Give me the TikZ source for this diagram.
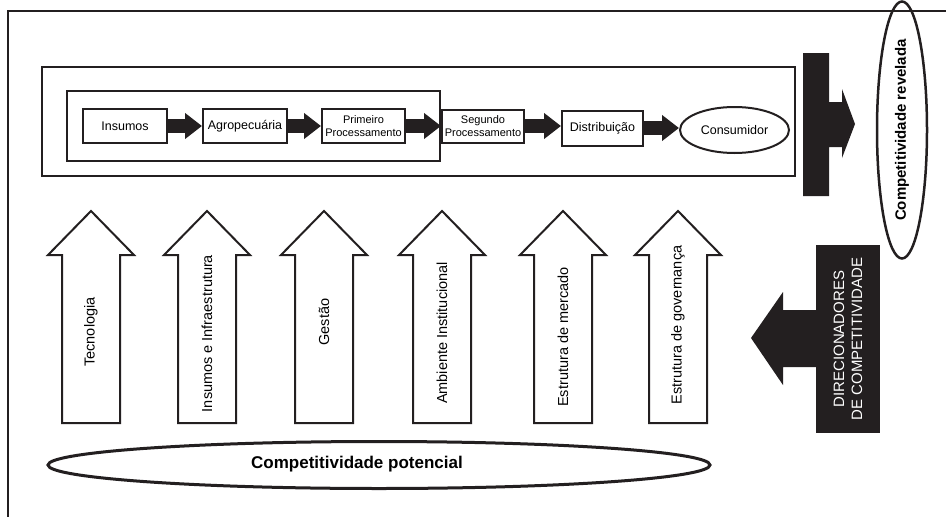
\documentclass[tikz,border=0pt]{standalone}
\usepackage{fontspec}
\setmainfont{Liberation Sans}
\usetikzlibrary{shapes.geometric,arrows.meta}
\definecolor{ink}{RGB}{35,31,32}
\begin{document}
\begin{tikzpicture}[x=1pt,y=-1pt,
  frame/.style={draw=ink,line width=2pt},
  flowbox/.style={draw=ink,line width=2pt,fill=white,inner sep=0pt,align=center,
    minimum height=34pt,font=\fontsize{12.5}{14}\selectfont},
  smalltxt/.style={font=\fontsize{11}{13}\selectfont},
  blockarrow/.style={draw=ink,line width=14pt,-{Triangle[width=25pt,length=17pt]}},
  uparrow/.style={draw=ink,line width=2pt,fill=white,line join=miter},
  uplabel/.style={rotate=90,font=\fontsize{14.5}{17}\selectfont,inner sep=0pt},
  solidshape/.style={fill=ink,draw=none}
]
\useasboundingbox (0,0) rectangle (946,517);
\fill[white] (0,0) rectangle (946,517);
% outer frame
\draw[frame] (947,11) -- (8,11) -- (8,518);
% chain boxes
\node[frame,minimum width=753pt,minimum height=109pt,inner sep=0pt] (chain) at (418.5,121.5) {};
\node[frame,minimum width=373pt,minimum height=70pt,inner sep=0pt] (inner) at (253.5,126) {};
% flow nodes
\node[flowbox,minimum width=84pt] (ins) at (125,126) {Insumos};
\node[flowbox,minimum width=84pt] (agro) at (245,126) {Agropecuária};
\node[flowbox,smalltxt,minimum width=83pt] (prim) at (363.5,126) {Primeiro\\Processamento};
\node[flowbox,smalltxt,minimum width=82pt,minimum height=33pt] (seg) at (483,126) {Segundo\\Processamento};
\node[flowbox,minimum width=81pt,minimum height=35pt] (dist) at (602.5,128) {Distribuição};
\node[draw=ink,line width=2pt,ellipse,minimum width=109pt,minimum height=46pt,inner sep=0pt,
  font=\fontsize{12.5}{14}\selectfont] (cons) at (734.5,130) {Consumidor};
% block arrows
\draw[blockarrow] (ins.east) -- (ins.east -| agro.west);
\draw[blockarrow] (agro.east) -- (agro.east -| prim.west);
\draw[blockarrow] (prim.east) -- (prim.east -| seg.west);
\draw[blockarrow] (seg.east) -- (seg.east -| dist.west);
\draw[blockarrow] (dist.east) -- (dist.east -| cons.west);
% T-shaped arrow to revealed competitiveness
\fill[solidshape] (803,53) -- (829,53) -- (829,102) -- (842,102) -- (842,89) -- (855,124)
  -- (842,158) -- (842,147) -- (829,147) -- (829,196) -- (803,196) -- cycle;
\node[draw=ink,line width=2.5pt,ellipse,minimum width=219pt,minimum height=50pt,inner sep=0pt,
  rotate=90,font=\bfseries\fontsize{15}{18}\selectfont] (rev) at (902,130) {Competitividade revelada};
% drivers
\node[fill=ink,minimum width=188pt,minimum height=64pt,inner sep=0pt,rotate=90,text=white,
  align=center,font=\fontsize{15}{18}\selectfont] (dir) at (848,339) {DIRECIONADORES\\DE COMPETITIVIDADE};
\fill[solidshape] (817,310) -- (783,310) -- (783,292) -- (751,338) -- (783,385) -- (783,367)
  -- (817,367) -- cycle;
% up arrows
\foreach \cx/\ty/\lab [count=\i] in {91/332/Tecnologia,207/333.5/Insumos e Infraestrutura,
   324/322/Gestão,442/333/Ambiente Institucional,563/337/Estrutura de mercado,
   678/325/Estrutura de governança}{
  \draw[uparrow] (\cx-29,423) -- (\cx-29,255) -- (\cx-43,255) -- (\cx,211) -- (\cx+43,255)
    -- (\cx+29,255) -- (\cx+29,423) -- cycle;
  \node[uplabel] (f\i) at (\cx,\ty) {\lab};
}
% potential competitiveness
\node[draw=ink,line width=3pt,ellipse,minimum width=662pt,minimum height=47pt,inner sep=0pt] (pot) at (379,465) {};
\node[font=\bfseries\fontsize{17}{20}\selectfont,inner sep=0pt] (potlab) at (357,464) {Competitividade potencial};
\end{tikzpicture}
\end{document}
